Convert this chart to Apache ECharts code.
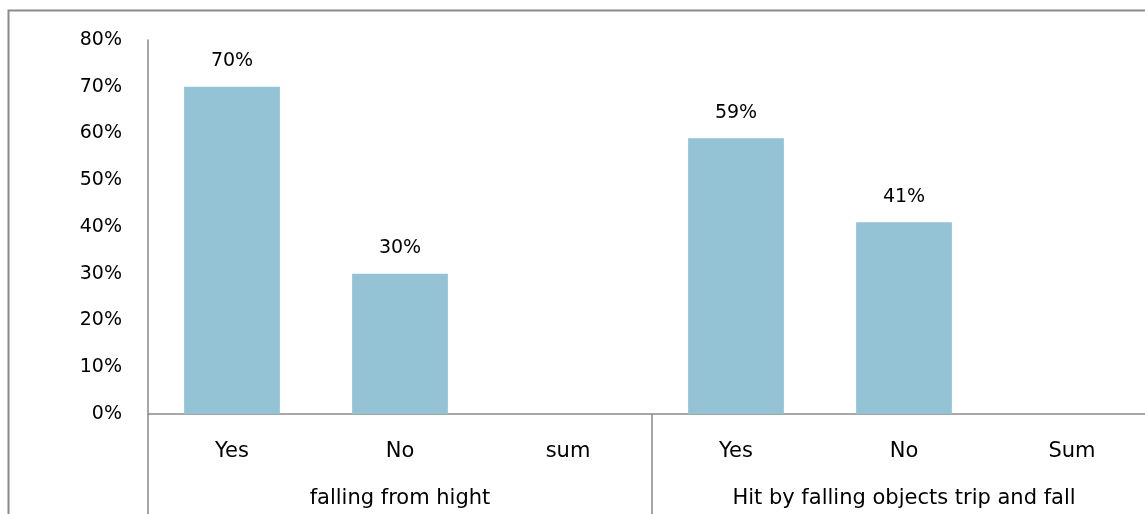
<!DOCTYPE html>
<html>
<head>
<meta charset="utf-8">
<script src="https://cdn.jsdelivr.net/npm/echarts@6/dist/echarts.min.js"></script>
<style>
  html, body { margin: 0; padding: 0; background: #fff; }
  #chart { width: 1145px; height: 514px; }
</style>
</head>
<body>
<div id="chart"></div>
<script>
// Answers per question, grouped by hazard type
const categories = ['Yes', 'No', 'sum', 'Yes', 'No', 'Sum'];
const groups = ['falling from hight', 'Hit by falling objects trip and fall'];
const shares = [0.70, 0.30, null, 0.59, 0.41, null];
const yTicks = { min: 0, max: 0.8, interval: 0.1 };

const FONT = '"DejaVu Sans", sans-serif';
const FS_NUM = 19;   // percentages
const FS_TXT = 21;   // category and group names
const GRAY = '#8a8a8a';

const chart = echarts.init(document.getElementById('chart'), null, { renderer: 'canvas' });

chart.setOption({
  animation: false,
  backgroundColor: '#fff',
  textStyle: { fontFamily: FONT },
  graphic: [{
    type: 'rect',
    shape: { x: 8.5, y: 10.5, width: 1300, height: 700 },
    style: { fill: 'none', stroke: GRAY, lineWidth: 2 },
    silent: true
  }],
  grid: { left: 148, top: 40, width: 1008, height: 374, outerBoundsMode: 'none', containLabel: false },
  xAxis: [{
    type: 'category',
    data: categories,
    position: 'bottom',
    axisLine: { show: true, lineStyle: { color: GRAY, width: 1.5 } },
    axisTick: { show: false },
    axisLabel: { color: '#000', fontSize: FS_TXT, fontFamily: FONT, margin: 27 }
  }, {
    type: 'category',
    data: groups,
    position: 'bottom',
    axisLine: { show: false },
    axisTick: { show: true, length: 110, lineStyle: { color: GRAY, width: 1.5 } },
    axisLabel: { color: '#000', fontSize: FS_TXT, fontFamily: FONT, margin: 74 }
  }],
  yAxis: {
    type: 'value',
    min: yTicks.min,
    max: yTicks.max,
    interval: yTicks.interval,
    axisLine: { show: true, lineStyle: { color: GRAY, width: 1.5 } },
    axisTick: { show: false },
    splitLine: { show: false },
    axisLabel: {
      color: '#000', fontSize: FS_NUM, fontFamily: FONT, margin: 26,
      formatter: v => Math.round(v * 100) + '%'
    }
  },
  series: [{
    type: 'bar',
    data: shares,
    barWidth: '57%',
    itemStyle: { color: '#93c3d5' },
    label: {
      show: true,
      position: 'top',
      distance: 16,
      color: '#000',
      fontSize: FS_NUM,
      fontFamily: FONT,
      formatter: p => Math.round(p.value * 100) + '%'
    }
  }]
});
</script>
</body>
</html>
